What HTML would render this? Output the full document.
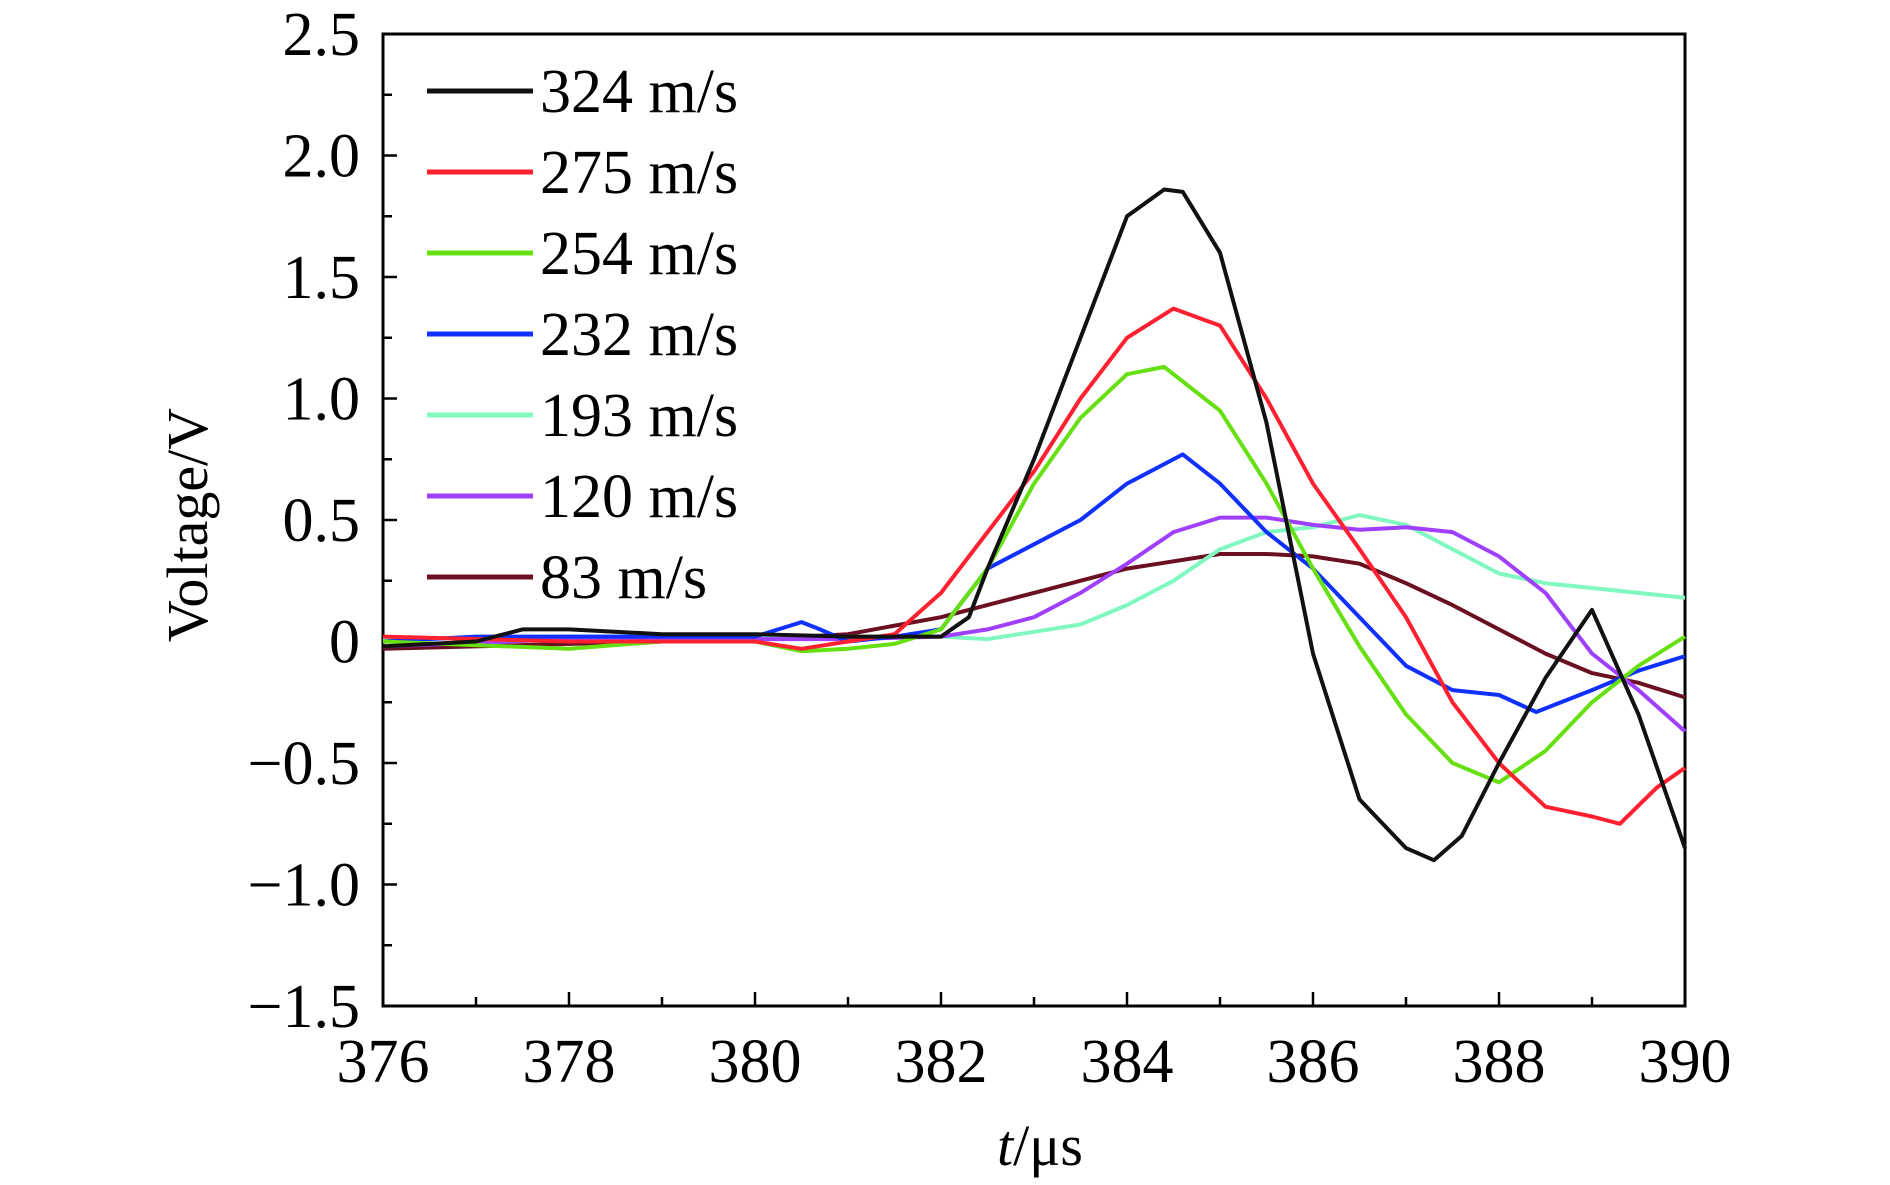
<!DOCTYPE html>
<html><head><meta charset="utf-8"><style>
html,body{margin:0;padding:0;background:#fff;}
svg{display:block;font-family:"Liberation Serif",serif;}
</style></head><body>
<svg id="chart" width="1890" height="1185" viewBox="0 0 1890 1185">
<g id="axes"></g>
<g id="series"></g>
<g id="legend"></g>
<text x="1040" y="1165" font-size="58" text-anchor="middle"><tspan font-style="italic">t</tspan>/μs</text>
<text transform="translate(207,525) rotate(-90)" font-size="58" text-anchor="middle">Voltage/V</text>
</svg>
<script>
const xTicks=[376,378,380,382,384,386,388,390];
const yTicks=[2.5,2.0,1.5,1.0,0.5,0,-0.5,-1.0,-1.5];
const yTickLabels=["2.5","2.0","1.5","1.0","0.5","0","\u22120.5","\u22121.0","\u22121.5"];
const seriesNames=["324 m/s","275 m/s","254 m/s","232 m/s","193 m/s","120 m/s","83 m/s"];
const seriesColors=["#111111","#ff2030","#66e010","#1030ff","#80f8c0","#a040ff","#6a1020"];
const t324=[376,377,377.5,378,379,380,381,381.5,382,382.3,382.5,383,383.5,384,384.4,384.6,385,385.5,386,386.5,387,387.3,387.6,388,388.5,389,389.5,390];
const v324=[-0.02,0,0.05,0.05,0.03,0.03,0.02,0.02,0.02,0.1,0.3,0.75,1.25,1.75,1.86,1.85,1.6,0.9,-0.05,-0.65,-0.85,-0.9,-0.8,-0.5,-0.15,0.13,-0.3,-0.85];
const t275=[376,378,380,380.5,381,381.5,382,382.5,383,383.5,384,384.5,385,385.5,386,386.5,387,387.5,388,388.5,389,389.3,389.7,390];
const v275=[0.02,0,0,-0.03,0,0.03,0.2,0.45,0.7,1.0,1.25,1.37,1.3,1.0,0.65,0.38,0.1,-0.25,-0.5,-0.68,-0.72,-0.75,-0.6,-0.52];
const t254=[376,378,379,380,380.5,381,381.5,382,382.5,383,383.5,384,384.4,385,385.5,386,386.5,387,387.5,388,388.5,389,389.5,390];
const v254=[0,-0.03,0,0,-0.04,-0.03,-0.01,0.05,0.3,0.65,0.92,1.1,1.13,0.95,0.65,0.3,-0.02,-0.3,-0.5,-0.58,-0.45,-0.25,-0.1,0.02];
const t232=[376,377,378,379,380,380.5,380.7,381,381.5,382,382.5,383,383.5,384,384.6,385,385.5,386,386.5,387,387.5,388,388.4,389,389.5,390];
const v232=[0,0.02,0.02,0.02,0.02,0.08,0.05,0,0.02,0.05,0.3,0.4,0.5,0.65,0.77,0.65,0.45,0.3,0.1,-0.1,-0.2,-0.22,-0.29,-0.2,-0.12,-0.06];
const t193=[376,378,380,381,382,382.5,383,383.5,384,384.5,385,385.5,386,386.5,387,387.5,388,388.5,389,390];
const v193=[0.01,0.02,0.02,0.02,0.02,0.01,0.04,0.07,0.15,0.25,0.38,0.45,0.47,0.52,0.48,0.38,0.28,0.24,0.22,0.18];
const t120=[376,378,380,381,382,382.5,383,383.5,384,384.5,385,385.5,386,386.5,387,387.5,388,388.5,389,389.5,390];
const v120=[-0.02,0.01,0.01,0.01,0.02,0.05,0.1,0.2,0.32,0.45,0.51,0.51,0.48,0.46,0.47,0.45,0.35,0.2,-0.05,-0.2,-0.37];
const t83=[376,378,380,381,382,383,384,385,385.5,386,386.5,387,387.5,388,388.5,389,389.5,390];
const v83=[-0.03,-0.01,0.01,0.03,0.1,0.2,0.3,0.36,0.36,0.35,0.32,0.24,0.15,0.05,-0.05,-0.13,-0.17,-0.23];

const L=383,R=1685,T=34,B=1006;
const xs=t=>L+(t-376)/(390-376)*(R-L);
const ys=v=>T+(2.5-v)/(4)*(B-T);
const NS="http://www.w3.org/2000/svg";
function mk(tag,parent,attrs){const e=document.createElementNS(NS,tag);for(const k in attrs)e.setAttribute(k,attrs[k]);parent.appendChild(e);return e;}
const axes=document.getElementById('axes');
let frame=mk('rect',axes,{x:L,y:T,width:R-L,height:B-T,fill:'none',stroke:'#000','stroke-width':3});


for(let t=376;t<=390;t++){const major=(t%2===0);
 let tk=mk('line',axes,{x1:xs(t),x2:xs(t),y1:B,y2:B-(major?14:9),stroke:'#000','stroke-width':2.5});
 
 }
xTicks.forEach(t=>{let tx=mk('text',axes,{x:xs(t),y:1082,'font-size':62,'text-anchor':'middle'});tx.textContent=t;
 
 });
for(let v=-1.5;v<=2.5001;v+=0.25){
 const major=Math.abs(v*2-Math.round(v*2))<1e-6;
 let tk=mk('line',axes,{x1:L,x2:L+(major?14:9),y1:ys(v),y2:ys(v),stroke:'#000','stroke-width':2.5});
 
 }
yTicks.forEach((v,i)=>{let tx=mk('text',axes,{x:360,y:ys(v)+21,'font-size':62,'text-anchor':'end'});tx.textContent=yTickLabels[i];
 
 });

const allT=[t324,t275,t254,t232,t193,t120,t83];
const allV=[v324,v275,v254,v232,v193,v120,v83];
const sg=document.getElementById('series');
const order=[6,4,5,3,2,1,0];
order.forEach(i=>{
 const pts=allT[i].map((t,j)=>xs(t).toFixed(1)+','+ys(allV[i][j]).toFixed(1)).join(' ');
 let pl=mk('polyline',sg,{points:pts,fill:'none',stroke:seriesColors[i],'stroke-width':4,'stroke-linejoin':'round'});
 
 
});
const lg=document.getElementById('legend');
seriesNames.forEach((n,i)=>{
 const y=91+i*81;
 let ln=mk('line',lg,{x1:427,x2:533,y1:y,y2:y,stroke:seriesColors[i],'stroke-width':5});
 
 
 let tx=mk('text',lg,{x:540,y:y+21,'font-size':62});tx.textContent=n;
 
 
});
</script>
</body></html>
